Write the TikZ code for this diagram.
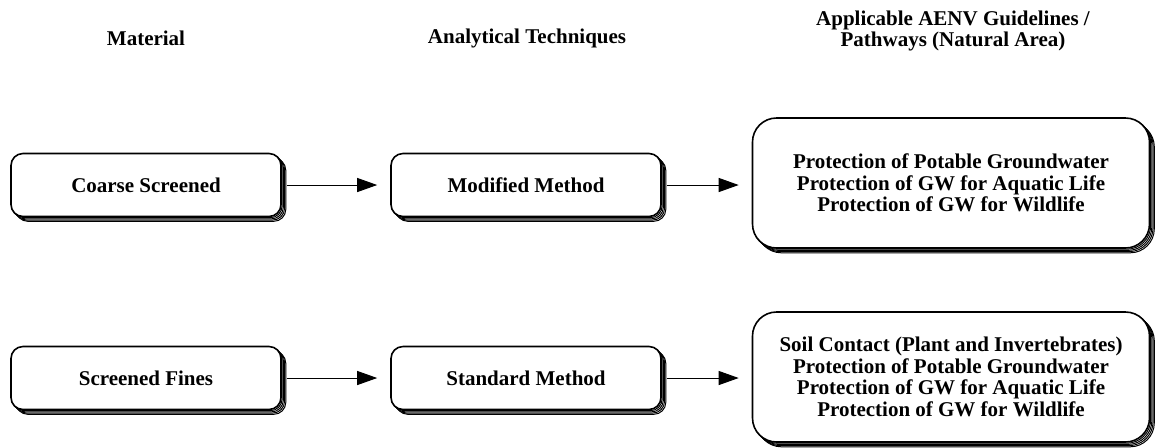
\documentclass[tikz,border=0pt]{standalone}
\usepackage{fontspec}
\setmainfont{Liberation Serif}
\usetikzlibrary{arrows.meta,shadows}
\tikzset{
	stackshadow/.style={
		general shadow={shadow xshift=2.4pt, shadow yshift=-2.4pt, draw=black, fill=white, line width=.5pt},
		general shadow={shadow xshift=1.8pt, shadow yshift=-1.8pt, draw=black, fill=white, line width=.5pt},
		general shadow={shadow xshift=1.2pt, shadow yshift=-1.2pt, draw=black, fill=white, line width=.5pt},
		general shadow={shadow xshift=.6pt, shadow yshift=-.6pt, draw=black, fill=white, line width=.5pt}},
	txt/.style={font=\bfseries\fontsize{10.5}{10.8}\selectfont, align=center},
	box/.style={txt, stackshadow, draw, fill=white, line width=.8pt, rounded corners=6pt,
		minimum width=135pt, minimum height=31.5pt},
	bigbox/.style={box, rounded corners=12pt, minimum width=198.5pt, minimum height=65pt},
	arr/.style={-{Triangle[length=10pt,width=7pt]}, line width=.5pt, shorten >=6.5pt, shorten <=2.5pt}
}
\begin{document}
\begin{tikzpicture}[x=.5pt, y=-.5pt]
	\useasboundingbox (0,0) rectangle (1156,447);

	% Headings
	\node[txt] (H1) at (146,38) {Material};
	\node[txt] (H2) at (527,38) {Analytical Techniques};
	\node[txt] (H3) at (953,31) {Applicable AENV Guidelines /\\Pathways (Natural Area)};

	% Nodes
	\node[box] (A) at (146,185) {Coarse Screened};
	\node[box] (B) at (526,185) {Modified Method};
	\node[bigbox] (C) at (951,183) {Protection of Potable Groundwater\\Protection of GW for Aquatic Life\\Protection of GW for Wildlife};
	\node[box] (D) at (146,378) {Screened Fines};
	\node[box] (E) at (526,378) {Standard Method};
	\node[bigbox] (F) at (951,377) {Soil Contact (Plant and Invertebrates)\\Protection of Potable Groundwater\\Protection of GW for Aquatic Life\\Protection of GW for Wildlife};

	% Arrows
	\draw[arr] (A) -- (B);
	\draw[arr] (B) -- (C.west |- B);
	\draw[arr] (D) -- (E);
	\draw[arr] (E) -- (F.west |- E);
\end{tikzpicture}
\end{document}
